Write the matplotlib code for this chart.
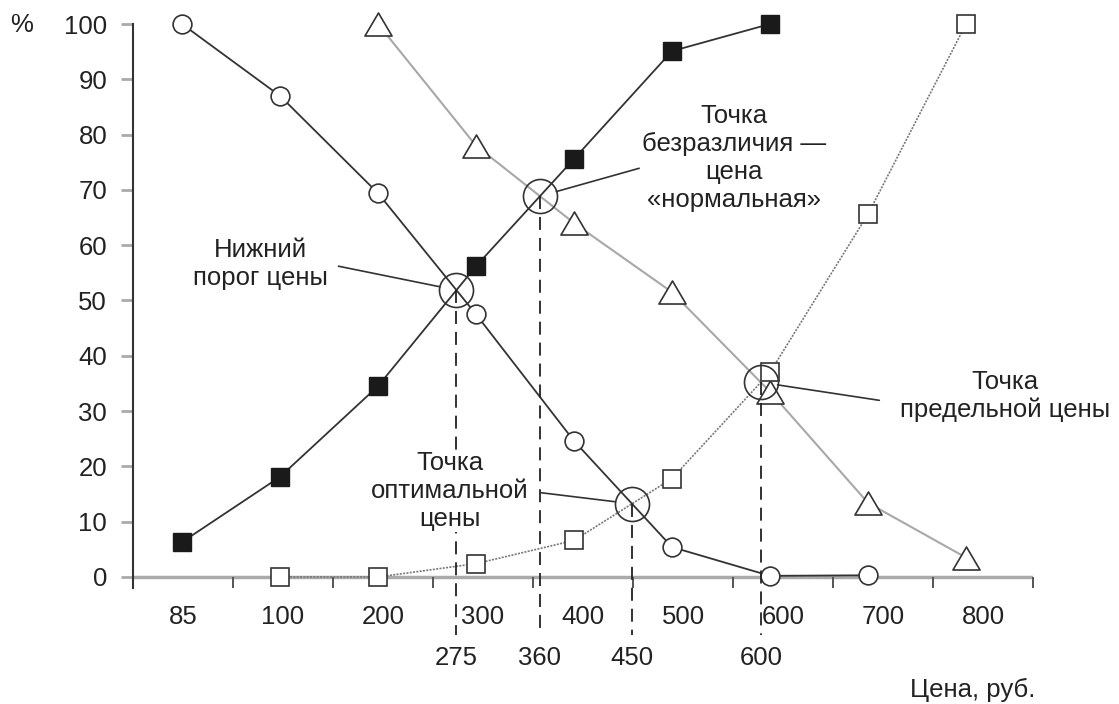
import numpy as np
import matplotlib
matplotlib.use("Agg")
import matplotlib.pyplot as plt
from matplotlib.path import Path

plt.rcParams["font.family"] = ["Liberation Sans", "DejaVu Sans"]
plt.rcParams["font.size"] = 18.5
plt.rcParams["text.color"] = "#222222"

# --- data (%) ---
prices = ["85", "100", "200", "300", "400", "500", "600", "700", "800"]
too_cheap = [100, 87, 69.4, 47.5, 24.6, 5.4, 0.2, 0.3, np.nan]          # open circles
not_cheap = [6.3, 18.1, 34.5, 56.2, 75.6, 95.1, 100, np.nan, np.nan]     # black squares
not_expensive = [np.nan, np.nan, 100, 78, 64, 51.5, 33.5, 13.4, 3.5]     # triangles
too_expensive = [np.nan, 0, 0, 2.4, 6.6, 17.8, 37, 65.6, 100]           # open squares

point_prices = ["275", "360", "450", "600"]
point_names = [
    "Нижний\nпорог цены",
    "Точка\nбезразличия —\nцена\n«нормальная»",
    "Точка\nоптимальной\nцены",
    "Точка\nпредельной цены",
]


def crossing(a, b):
    """Первое пересечение двух ломаных (линейная интерполяция)."""
    a = np.asarray(a, float)
    b = np.asarray(b, float)
    d = a - b
    for i in range(len(d) - 1):
        if np.isfinite(d[i]) and np.isfinite(d[i + 1]) and d[i] * d[i + 1] < 0:
            t = d[i] / (d[i] - d[i + 1])
            return i + t, a[i] + t * (a[i + 1] - a[i])
    return None


x = np.arange(len(prices))
dark = "#333333"

fig = plt.figure(figsize=(11.19, 7.04), dpi=100)
ax = fig.add_axes([133 / 1119, 116 / 704, 900 / 1119, 564 / 704])
ax.set_xlim(-0.5, -0.5 + 900 / 98)
ax.set_ylim(-2, 100)

# grey zero line (x axis)
ax.axhline(0, color="#aaaaaa", lw=2.5, zorder=1)

# wide triangle marker
tri = Path([(0, 0.85), (-1, -0.85), (1, -0.85), (0, 0.85)],
           [Path.MOVETO, Path.LINETO, Path.LINETO, Path.CLOSEPOLY])

ax.plot(x, not_expensive, color="#a8a8a8", lw=1.5, marker=tri, ms=19.5,
        mfc="white", mec=dark, mew=1.2, clip_on=False, zorder=2)
ax.plot(x, too_expensive, color="#777777", lw=1.2, ls=(0, (1.2, 0.8)),
        marker="s", ms=13.5, mfc="white", mec=dark, mew=1.2,
        clip_on=False, zorder=3)
ax.plot(x, too_cheap, color=dark, lw=1.3, marker="o", ms=13.5,
        mfc="white", mec=dark, mew=1.2, clip_on=False, zorder=3)
ax.plot(x, not_cheap, color=dark, lw=1.3, marker="s", ms=13.5,
        mfc="#1a1a1a", mec="#1a1a1a", clip_on=False, zorder=3)

# intersection points
pairs = [
    (not_cheap, too_cheap),
    (not_cheap, not_expensive),
    (too_cheap, too_expensive),
    (not_expensive, too_expensive),
]
points = [crossing(a, b) for a, b in pairs]

text_pos = [(0.796, 56.6), (5.633, 75.8), (2.735, 15.5), (8.398, 32.7)]
relpos = [(1, 0.5), (0, 0.41), (1, 0.5), (0, 0.36)]
shrink_a = [6, 0, 8, 13]

for (px, py), lab, name, tp, rp, sa in zip(points, point_prices, point_names,
                                          text_pos, relpos, shrink_a):
    ax.plot(px, py, marker="o", ms=24.5, mfc="none", mec=dark, mew=1.2,
            clip_on=False, zorder=5)
    ax.plot([px, px], [py, -10.5], color="#222222", lw=1.3,
            dashes=(7.2, 4.4), clip_on=False, zorder=4)
    ax.text(px, -14.7, lab, ha="center", va="center", clip_on=False)
    bbox = None
    if lab == "450":
        bbox = dict(facecolor="white", edgecolor="none", pad=1)
    ax.annotate(name, xy=(px, py), xytext=tp, ha="center", va="center",
                multialignment="center", bbox=bbox, zorder=6,
                arrowprops=dict(arrowstyle="-", color=dark, lw=1.2,
                                shrinkA=sa, shrinkB=12.2, relpos=rp))

# axes styling
for side in ["top", "right", "bottom"]:
    ax.spines[side].set_visible(False)
ax.spines["left"].set_color(dark)
ax.spines["left"].set_linewidth(1.5)

ax.set_yticks(np.arange(0, 101, 10))
ax.tick_params(axis="y", direction="out", length=8.6, width=2,
               color="#aaaaaa", pad=10, labelcolor="#222222")

bounds = -0.5 + np.arange(10) * 100 / 98
mids = (bounds[:-1] + bounds[1:]) / 2
ax.set_xticks(mids)
ax.set_xticklabels(prices)
ax.set_xticks(bounds[1:], minor=True)
ax.tick_params(axis="x", which="major", length=0, pad=12,
               labelcolor="#222222")
ax.tick_params(axis="x", which="minor", direction="in", length=7.9,
               width=1.4, color="#555555")

fig.text(22 / 1119, 1 - 25 / 704, "%", ha="center", va="center")
fig.text(1035 / 1119, 1 - 690 / 704, "Цена, руб.", ha="right", va="center")

fig.savefig("out.png", dpi=100)
